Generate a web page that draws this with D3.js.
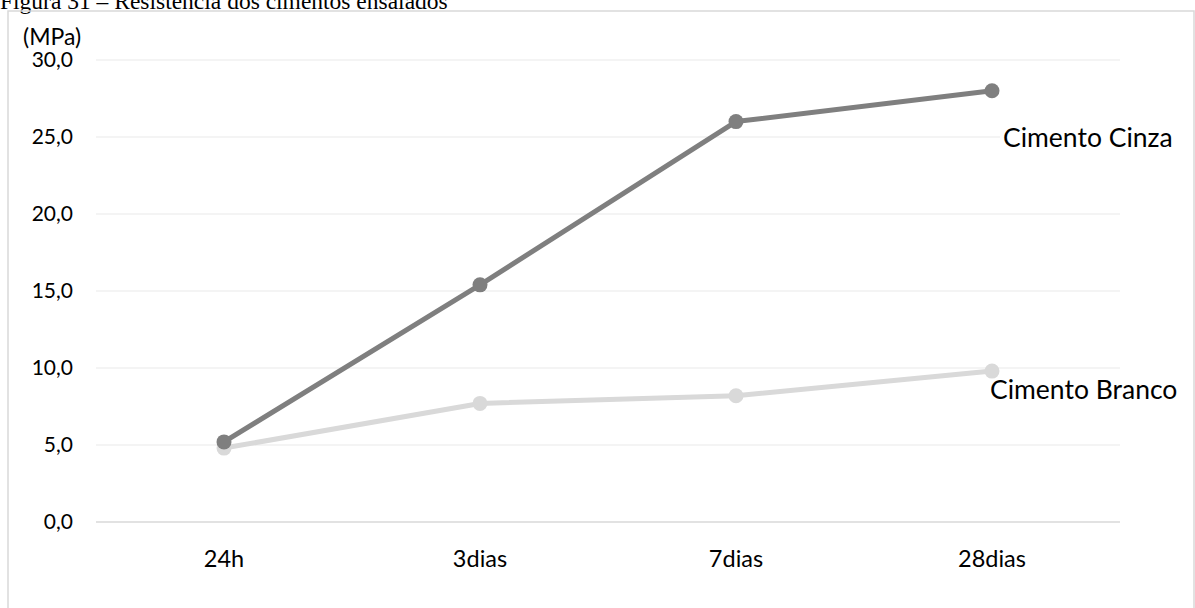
<!DOCTYPE html>
<html>
<head>
<meta charset="utf-8">
<script src="https://cdn.jsdelivr.net/npm/d3@7"></script>
<style>
  html, body { margin: 0; padding: 0; background: #fff; }
  svg { display: block; }
</style>
</head>
<body>
<svg id="chart" width="1195" height="608"></svg>
<script>
// Compressive strength of the tested cements (MPa) by curing age
const categories = ["24h", "3dias", "7dias", "28dias"];
const cimentoCinza = [5.2, 15.4, 26.0, 28.0];
const cimentoBranco = [4.8, 7.7, 8.2, 9.8];
const yTicks = [0, 5, 10, 15, 20, 25, 30];
const seriesNames = ["Cimento Cinza", "Cimento Branco"];

const svg = d3.select("#chart");
const W = 1195, H = 608;
const plot = { left: 96, right: 1120, top: 60, bottom: 522 };
const sansFont = "Lato, 'Open Sans', sans-serif";

// Figure caption (partly above the page edge)
svg.append("text")
  .attr("x", 0).attr("y", 9)
  .attr("font-family", "'Liberation Serif', 'Times New Roman', serif")
  .attr("font-size", 23.5)
  .attr("fill", "#000")
  .text("Figura 31 – Resistência dos cimentos ensaiados");

// Chart frame
svg.append("rect")
  .attr("x", 8).attr("y", 11)
  .attr("width", W - 9).attr("height", H + 20)
  .attr("fill", "none")
  .attr("stroke", "#d9d9d9")
  .attr("stroke-width", 1.5);

const x = d3.scaleBand().domain(categories).range([plot.left, plot.right]);
const y = d3.scaleLinear().domain([0, 30]).range([plot.bottom, plot.top]);

// Horizontal gridlines
svg.append("g").selectAll("line")
  .data(yTicks.filter(d => d !== 0))
  .join("line")
  .attr("x1", plot.left).attr("x2", plot.right)
  .attr("y1", d => y(d)).attr("y2", d => y(d))
  .attr("stroke", "#f0f0f0").attr("stroke-width", 1.5);

// Category axis line
svg.append("line")
  .attr("x1", plot.left).attr("x2", plot.right)
  .attr("y1", y(0)).attr("y2", y(0))
  .attr("stroke", "#d9d9d9").attr("stroke-width", 1.5);

// Value axis labels
const fmt = v => d3.format(".1f")(v).replace(".", ",");
svg.append("g").selectAll("text")
  .data(yTicks)
  .join("text")
  .attr("x", 73)
  .attr("y", d => y(d) + 7)
  .attr("text-anchor", "end")
  .attr("font-family", sansFont)
  .attr("font-size", 21)
  .attr("fill", "#000")
  .text(fmt);

// Unit label
svg.append("text")
  .attr("x", 23).attr("y", 45)
  .attr("font-family", sansFont)
  .attr("font-size", 23)
  .attr("fill", "#000")
  .text("(MPa)");

// Category labels
svg.append("g").selectAll("text")
  .data(categories)
  .join("text")
  .attr("x", d => x(d) + x.bandwidth() / 2)
  .attr("y", 567)
  .attr("text-anchor", "middle")
  .attr("font-family", sansFont)
  .attr("font-size", 23.5)
  .attr("fill", "#000")
  .text(d => d);

const line = d3.line()
  .x((d, i) => x(categories[i]) + x.bandwidth() / 2)
  .y(d => y(d));

function drawSeries(values, color) {
  const g = svg.append("g");
  g.append("path")
    .datum(values)
    .attr("d", line)
    .attr("fill", "none")
    .attr("stroke", color)
    .attr("stroke-width", 5)
    .attr("stroke-linejoin", "round");
  g.selectAll("circle")
    .data(values)
    .join("circle")
    .attr("cx", (d, i) => x(categories[i]) + x.bandwidth() / 2)
    .attr("cy", d => y(d))
    .attr("r", 7.5)
    .attr("fill", color);
}

drawSeries(cimentoBranco, "#d9d9d9");
drawSeries(cimentoCinza, "#7f7f7f");

// Series labels
const cinzaLabel = svg.append("g");
cinzaLabel.append("rect")
  .attr("x", 1000).attr("y", 125)
  .attr("width", 190).attr("height", 30)
  .attr("fill", "#fff");
cinzaLabel.append("text")
  .attr("x", 1003).attr("y", 147)
  .attr("font-family", sansFont)
  .attr("font-size", 26.5)
  .attr("fill", "#000")
  .text(seriesNames[0]);

svg.append("text")
  .attr("x", 990).attr("y", 399)
  .attr("font-family", sansFont)
  .attr("font-size", 26.5)
  .attr("fill", "#000")
  .text(seriesNames[1]);
</script>
</body>
</html>
